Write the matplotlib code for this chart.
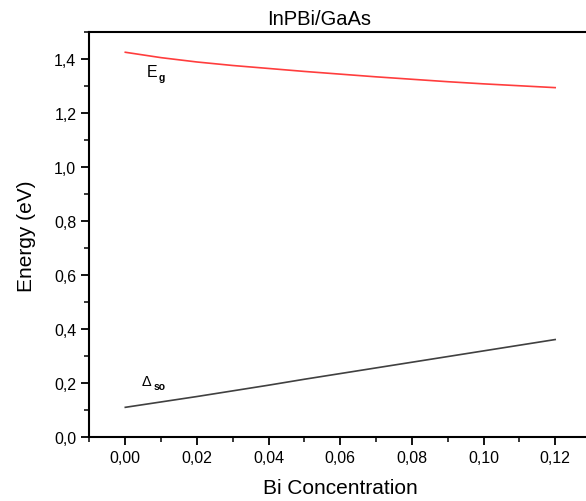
import matplotlib
matplotlib.use('Agg')
import matplotlib.pyplot as plt
from matplotlib.ticker import MultipleLocator, FuncFormatter

plt.rcParams['font.family'] = ['Liberation Sans', 'DejaVu Sans']

# Bi content and band parameters (eV)
bi_conc = [0.00, 0.01, 0.02, 0.03, 0.04, 0.05, 0.06, 0.07, 0.08, 0.09, 0.10, 0.11, 0.12]
eg = [1.426, 1.406, 1.390, 1.377, 1.366, 1.355, 1.345, 1.335, 1.326, 1.317, 1.309, 1.302, 1.295]
delta_so = [0.111, 0.131, 0.151, 0.172, 0.193, 0.215, 0.236, 0.257, 0.278, 0.299, 0.320, 0.341, 0.362]

fig = plt.figure(figsize=(5.86, 5.02), dpi=100)
ax = fig.add_axes([0.1527, 0.1269, 0.8558, 0.8068])

ax.plot(bi_conc, eg, color='#ff3d3d', lw=1.2)
ax.plot(bi_conc, delta_so, color='#404040', lw=1.2)

# curve labels
ax.text(0.0061, 1.354, 'E', fontsize=11.5, va='center', ha='left')
ax.text(0.0094, 1.336, 'g', fontsize=7.5, fontweight='bold', va='center', ha='left')
ax.text(0.0045, 0.207, '\u0394', fontsize=10.5, va='center', ha='left')
ax.text(0.0078, 0.190, 'so', fontsize=7.5, fontweight='bold', va='center', ha='left')

ax.set_xlim(-0.01, 0.13)
ax.set_ylim(0, 1.5)

ax.xaxis.set_major_locator(MultipleLocator(0.02))
ax.xaxis.set_minor_locator(MultipleLocator(0.01))
ax.yaxis.set_major_locator(MultipleLocator(0.2))
ax.yaxis.set_minor_locator(MultipleLocator(0.1))
ax.xaxis.set_major_formatter(FuncFormatter(lambda v, p: f'{v:.2f}'.replace('.', ',').replace('-0,00', '0,00')))
ax.yaxis.set_major_formatter(FuncFormatter(lambda v, p: f'{v:.1f}'.replace('.', ',')))

for s in ax.spines.values():
    s.set_linewidth(1.5)
ax.tick_params(which='major', direction='out', length=5.5, width=1.3, labelsize=11.5, pad=4)
ax.tick_params(which='minor', direction='out', length=3.5, width=1.1)

ax.set_xlabel('Bi Concentration', fontsize=15, labelpad=9)
ax.set_ylabel('Energy (eV)', fontsize=15, labelpad=13)
ax.set_title('InPBi/GaAs', fontsize=14.5, pad=6, x=0.458)

fig.savefig('out.png', dpi=100)
